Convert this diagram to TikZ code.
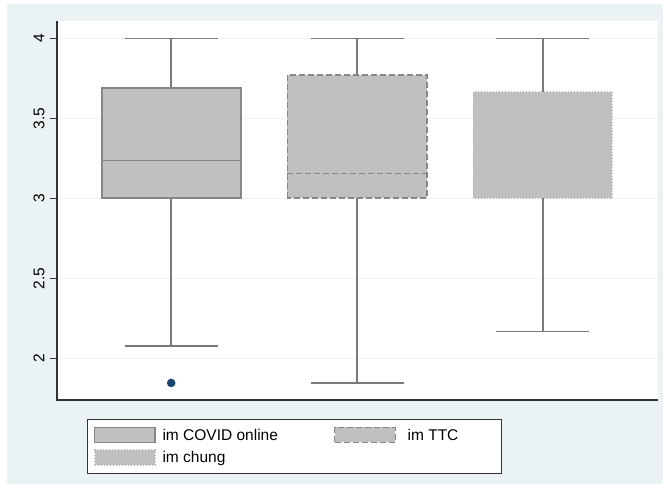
\documentclass[tikz,border=0pt]{standalone}
\usepackage{fontspec}
\setmainfont{Liberation Sans}
\usetikzlibrary{positioning}

\definecolor{bgcol}{HTML}{EAF2F3}
\definecolor{boxfill}{HTML}{C0C0C0}
\definecolor{boxline}{HTML}{878787}
\definecolor{whisk}{HTML}{7A7A7A}
\definecolor{outcol}{HTML}{1A476F}
\definecolor{axcol}{HTML}{333333}

\begin{document}
\begin{tikzpicture}[x=1pt,y=1pt,
  box/.style={fill=boxfill,draw=boxline,line width=1.6pt},
  whisker/.style={draw=whisk,line width=1.5pt},
  dashbox/.style={dash pattern=on 6pt off 3pt},
  dotbox/.style={draw=boxline!60,dash pattern=on 1pt off 2pt},
  ticklab/.style={font=\fontsize{15.5}{15.5}\selectfont,rotate=90,inner sep=0pt},
  key/.style={box,line width=1.2pt,minimum width=60.3pt,minimum height=15pt,inner sep=0pt},
  legtext/.style={font=\fontsize{15.5}{15.5}\selectfont,inner sep=0pt,text height=11pt,text depth=0pt}]
  \fill[bgcol] (7,0) rectangle (663,480);
  \fill[white] (57,84) rectangle (658,463);
  \useasboundingbox (0,0) rectangle (663,484);

\begin{scope}[shift={(0,-194.3)},y=160pt]
  \foreach \v [count=\i] in {2,2.5,3,3.5,4} {
    \draw[bgcol,line width=1.2pt] (57,\v) -- (657,\v);
    \draw[axcol,line width=1.1pt] (50,\v) -- (57,\v);
    \node[ticklab] (ylab\i) at (39,\v) {\v};
  }

  % im COVID online
  \draw[whisker] (171.2,3.69) -- (171.2,4) (124.7,4) -- (217.7,4);
  \draw[whisker] (171.2,3) -- (171.2,2.077) (124.7,2.077) -- (217.7,2.077);
  \draw[box] (101.7,3) rectangle (240.7,3.69);
  \draw[box] (101.7,3.235) -- (240.7,3.235);
  \fill[outcol] (171.2,1.846) circle[radius=4.3pt];

  % im TTC
  \draw[whisker] (357,3.77) -- (357,4) (310.5,4) -- (403.5,4);
  \draw[whisker] (357,3) -- (357,1.846) (310.5,1.846) -- (403.5,1.846);
  \draw[box,dashbox] (287.3,3) rectangle (426.7,3.77);
  \draw[box,dashbox] (287.3,3.154) -- (426.7,3.154);

  % im chung
  \draw[whisker] (542.8,3.667) -- (542.8,4) (496.3,4) -- (589.3,4);
  \draw[whisker] (542.8,3) -- (542.8,2.167) (496.3,2.167) -- (589.3,2.167);
  \draw[box,dotbox] (473.3,3) rectangle (612.3,3.667);
\end{scope}

  \draw[axcol,line width=1.3pt] (57,463) -- (57,84) -- (657.5,84);

  % legend
  \draw[axcol,fill=white,line width=1.1pt] (87.3,10.7) rectangle (501.7,64.7);
  \node[key] (k1) at (124.9,49.2) {};
  \node[key,dashbox] (k2) at (365,49.2) {};
  \node[key,dotbox] (k3) at (124.9,26.5) {};
  \node[legtext,right=6.7pt of k1] (t1) {im COVID online};
  \node[legtext,right=11.7pt of k2] (t2) {im TTC};
  \node[legtext,right=6.7pt of k3] (t3) {im chung};
\end{tikzpicture}
\end{document}
